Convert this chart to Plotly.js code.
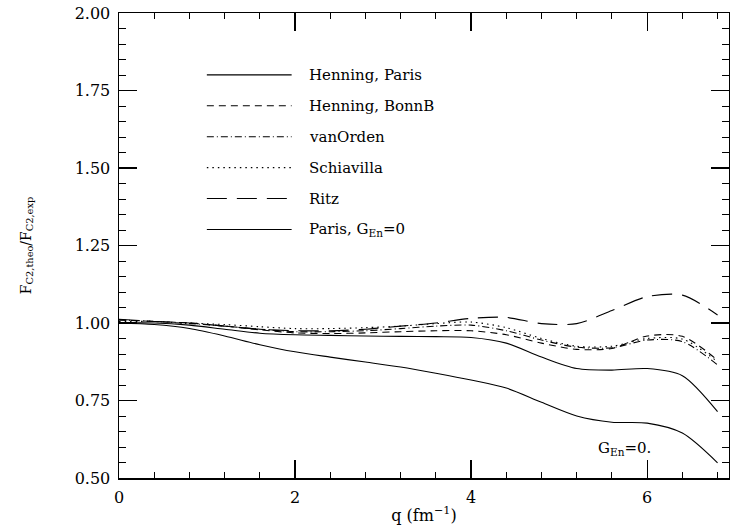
<!DOCTYPE html>
<html>
<head>
<meta charset="utf-8">
<script src="https://cdn.plot.ly/plotly-3.0.1.min.js"></script>
<style>html,body{margin:0;padding:0;background:#fff;}#chart{width:730px;height:527px;}</style>
</head>
<body>
<div id="chart"></div>
<script>
// q values (fm^-1)
const q = [0, 0.4, 0.8, 1.2, 1.6, 2.0, 2.4, 2.8, 3.2, 3.6, 4.0, 4.4, 4.8, 5.2, 5.6, 6.0, 6.4, 6.8];

// ratio F_C2,theo / F_C2,exp
const henningParis = [1.00, 1.00, 0.993, 0.980, 0.967, 0.962, 0.960, 0.958, 0.957, 0.956, 0.953, 0.935, 0.890, 0.853, 0.848, 0.853, 0.830, 0.714];
const henningBonnB = [1.010, 1.005, 1.000, 0.990, 0.978, 0.968, 0.966, 0.968, 0.972, 0.975, 0.975, 0.962, 0.935, 0.915, 0.918, 0.958, 0.957, 0.880];
const vanOrden     = [1.010, 1.005, 0.998, 0.990, 0.980, 0.972, 0.972, 0.975, 0.982, 0.990, 0.993, 0.975, 0.945, 0.922, 0.920, 0.945, 0.940, 0.865];
const schiavilla   = [1.005, 1.005, 1.000, 0.995, 0.988, 0.982, 0.982, 0.985, 0.990, 0.998, 1.003, 0.985, 0.950, 0.925, 0.925, 0.950, 0.948, 0.875];
const ritz         = [1.012, 1.005, 1.000, 0.990, 0.980, 0.975, 0.975, 0.980, 0.990, 1.000, 1.015, 1.018, 0.998, 0.998, 1.040, 1.085, 1.090, 1.026];
const parisGEn0    = [1.00, 0.995, 0.982, 0.958, 0.930, 0.907, 0.890, 0.874, 0.858, 0.838, 0.816, 0.790, 0.744, 0.700, 0.680, 0.677, 0.645, 0.549];

const seriesNames = ["Henning, Paris", "Henning, BonnB", "vanOrden", "Schiavilla", "Ritz", "Paris, G<sub>En</sub>=0"];
const seriesData = [henningParis, henningBonnB, vanOrden, schiavilla, ritz, parisGEn0];
const seriesDash = ["solid", "7px,5px", "7px,3px,1px,3px", "1.5px,4px", "20px,10px", "solid"];

const xTickVals = [0, 2, 4, 6];
const yTickVals = [0.50, 0.75, 1.00, 1.25, 1.50, 1.75, 2.00];
const yTickText = ["0.50", "0.75", "1.00", "1.25", "1.50", "1.75", "2.00"];

const FONT = "DejaVu Serif, Liberation Serif, serif";

const traces = seriesData.map((ys, i) => ({
  x: q, y: ys, type: "scatter", mode: "lines",
  line: {color: "#000", width: 1.1, dash: seriesDash[i], shape: "spline", smoothing: 0.8},
  showlegend: false, hoverinfo: "skip"
}));

// manual legend (long line samples like the reference)
const shapes = [];
const annotations = [];
const legX0 = 0.144, legX1 = 0.283, legTextX = 0.308;
const legY0 = 0.867, legDy = 0.0665;
seriesNames.forEach((name, i) => {
  const yy = legY0 - i * legDy;
  shapes.push({type: "line", xref: "paper", yref: "paper", x0: legX0, x1: legX1, y0: yy, y1: yy,
    line: {color: "#000", width: 1.1, dash: seriesDash[i]}});
  annotations.push({xref: "paper", yref: "paper", x: legTextX, y: yy, xanchor: "left", yanchor: "middle",
    text: name, showarrow: false, font: {family: FONT, size: 15, color: "#000"}});
});
annotations.push({xref: "x", yref: "y", x: 5.74, y: 0.595, xanchor: "center", yanchor: "middle",
  text: "G<sub>En</sub>=0.", showarrow: false, font: {family: FONT, size: 15, color: "#000"}});

const layout = {
  width: 730, height: 527,
  margin: {l: 119, r: 1, t: 13, b: 49},
  paper_bgcolor: "#fff", plot_bgcolor: "#fff",
  font: {family: FONT, size: 15, color: "#000"},
  xaxis: {
    range: [0, 6.93], tickvals: xTickVals, ticks: "inside", ticklen: 18, tickwidth: 1.2, tickcolor: "#000",
    showline: true, linecolor: "#000", linewidth: 1.5, mirror: "allticks", showgrid: false, zeroline: false,
    minor: {dtick: 0.4, tick0: 0, ticks: "inside", ticklen: 6, tickwidth: 1, tickcolor: "#000", showgrid: false},
    tickfont: {family: FONT, size: 16, color: "#000"}, ticklabelstandoff: 4,
    title: {text: "q (fm<sup>−1</sup>)", font: {family: FONT, size: 16, color: "#000"}, standoff: 4}
  },
  yaxis: {
    range: [0.5, 2.0], tickvals: yTickVals, ticktext: yTickText, ticks: "inside", ticklen: 18, tickwidth: 1.2, tickcolor: "#000",
    showline: true, linecolor: "#000", linewidth: 1.5, mirror: "allticks", showgrid: false, zeroline: false,
    minor: {dtick: 0.05, tick0: 0.5, ticks: "inside", ticklen: 7, tickwidth: 1, tickcolor: "#000", showgrid: false},
    tickfont: {family: FONT, size: 16, color: "#000"}, ticklabelstandoff: 4,
    title: {text: "F<sub>C2,theo</sub>/F<sub>C2,exp</sub>", font: {family: FONT, size: 14, color: "#000"}, standoff: 40}
  },
  shapes: shapes,
  annotations: annotations
};

Plotly.newPlot("chart", traces, layout, {displayModeBar: false, staticPlot: true});
</script>
</body>
</html>
